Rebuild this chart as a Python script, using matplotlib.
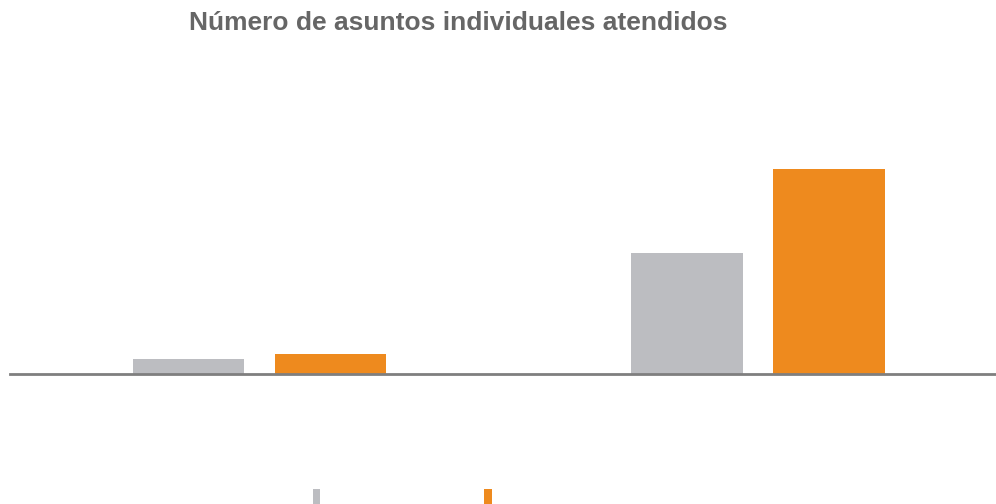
import matplotlib
matplotlib.use('Agg')
import matplotlib.pyplot as plt
import numpy as np

categories = ['A', 'B']
series_names = [' ', ' ']
gray_vals = [150, 1210]
orange_vals = [200, 2050]

gray = '#bcbdc1'
orange = '#ee8a1e'

fig = plt.figure(figsize=(9.96, 5.04), dpi=100)
ax = fig.add_axes([10/996, 130/504, 986/996, 314/504])

x = np.arange(len(categories))
w = 0.223
off = 0.1424
b1 = ax.bar(x - off, gray_vals, w, color=gray)
b2 = ax.bar(x + off, orange_vals, w, color=orange)

ax.set_xlim(-0.5005, 1.4774)
ax.set_ylim(0, 3140)
for s in ['top', 'right', 'left']:
    ax.spines[s].set_visible(False)
ax.spines['bottom'].set_color('#7f7f7f')
ax.spines['bottom'].set_linewidth(2)
ax.set_xticks([])
ax.set_yticks([])

fig.text(458/996, 1 - 30/504, 'Número de asuntos individuales atendidos',
         ha='center', va='baseline', fontsize=19, fontweight='bold',
         color='#666666', family='Liberation Sans')

leg = fig.legend([b1, b2], series_names, loc='upper left',
                 bbox_to_anchor=(300/996, 1 - 476/504), ncol=2,
                 frameon=False, handlelength=0.55, handleheight=2.0,
                 columnspacing=11.5, handletextpad=0.0, fontsize=10)

fig.savefig('out.png', dpi=100)
